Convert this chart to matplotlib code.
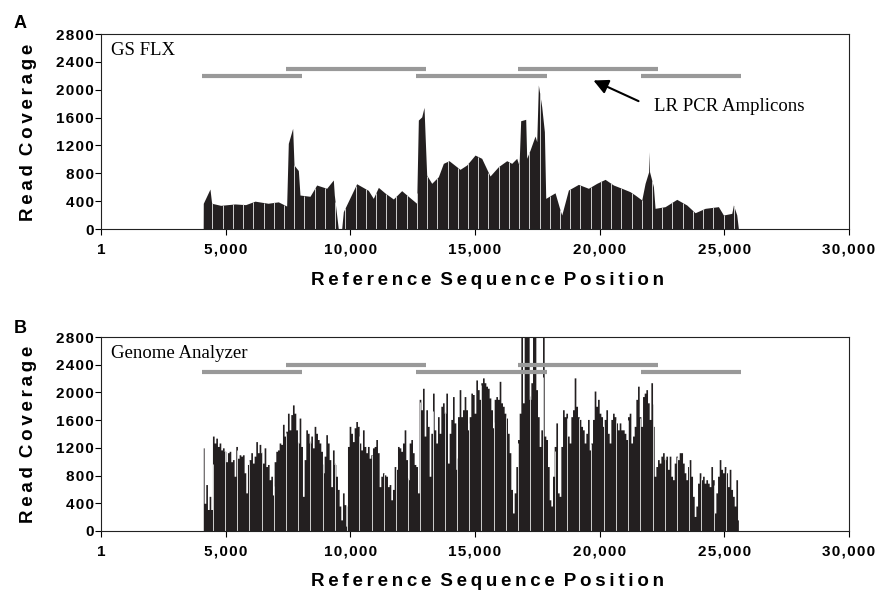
import numpy as np
import matplotlib
matplotlib.use("Agg")
import matplotlib.pyplot as plt

plt.rcParams['font.family'] = ['Liberation Sans', 'DejaVu Sans']

# amplicon extents (bp) and the height each bar is drawn at in the two panels
amp_start = [4050, 7420, 12640, 16730, 21660]
amp_end = [8060, 13040, 17890, 22340, 25670]
amp_level_A = [2200, 2300, 2200, 2300, 2200]
amp_level_B = [2300, 2400, 2300, 2400, 2300]

# GS FLX coverage profile (breakpoints)
posA = [4100, 4104, 4372, 4439, 4800, 5375, 5800, 6177, 6700, 7113, 7447, 7514, 7688,
        7742, 7916, 7982, 8383, 8651, 9052, 9319, 9359, 9519, 9653, 9720, 10255, 10722,
        10922, 11125, 11392, 11726, 12060, 12328, 12662, 12729, 12863, 12956, 12996,
        13063, 13264, 13531, 13731, 13959, 14400, 14667, 15002, 15269, 15603, 15937,
        16272, 16472, 16673, 16767, 16833, 17034, 17074, 17208, 17409, 17476, 17542,
        17676, 17783, 17837, 18211, 18412, 18479, 18746, 19147, 19548, 19883, 20217,
        20551, 20886, 21220, 21420, 21688, 21821, 21965, 21982, 22000, 22155, 22222,
        22623, 23092, 23493, 23827, 24228, 24762, 24963, 25298, 25364, 25498, 25564]
covA = [0, 369, 574, 370, 340, 360, 350, 400, 370, 390, 330, 1230, 1446,
        919, 840, 488, 470, 632, 585, 704, 488, 0, 0, 249, 650, 555,
        440, 598, 517, 431, 551, 469, 369, 1565, 1610, 1747, 1374,
        775, 656, 751, 943, 981, 857, 919, 1062, 1015, 761, 895,
        981, 943, 1015, 910, 1555, 1575, 1015, 1134, 1335, 1254, 2068,
        1756, 1398, 440, 520, 273, 201, 560, 641, 585, 656, 713,
        632, 585, 536, 488, 417, 656, 823, 1110, 823, 608, 297,
        321, 426, 345, 234, 297, 321, 201, 225, 345, 201, 0]

# Genome Analyzer coverage, one value per bin
binB_start = 4104
binB_width = 66.85
covB = [1200, 400, 670, 310, 500, 310, 1370, 1270, 1340, 1220,
        1270, 1170, 1200, 1150, 1000, 1130, 1150, 1000, 1030, 790,
        1220, 1050, 1100, 1080, 1100, 840, 550, 960, 1030, 1130,
        980, 1080, 1290, 1130, 1250, 1130, 980, 1200, 930, 960,
        740, 790, 520, 1000, 1150, 1170, 1270, 1250, 1540, 1370,
        1440, 1700, 1460, 1680, 1820, 1700, 1460, 1270, 1630, 1220,
        500, 1030, 1460, 1410, 1270, 1370, 1200, 1510, 1410, 1320,
        1270, 1150, 840, 1080, 1390, 1270, 1030, 640, 1170, 960,
        790, 600, 360, 160, 550, 380, 70, 1220, 1510, 1410,
        1290, 1490, 1580, 1510, 1270, 1170, 1460, 1220, 1130, 1220,
        1050, 1100, 1200,
        1220, 1320, 1130, 640, 790, 840, 810, 790, 640, 670,
        450, 600, 930, 890, 1220, 1200, 1150, 1270, 1460, 1030,
        740, 1270, 1320, 1130, 960, 930, 550, 1900, 1750, 2060,
        1370, 1750, 1510, 790, 1410, 1990, 1460, 1270, 1650, 1410,
        1800, 1850, 1700, 1990, 980, 1410, 1610, 1940, 1560, 890,
        1650, 2040, 1650, 1750, 1940, 1750, 1460, 1650, 1990, 1970,
        1700, 2180, 2040, 1900, 2140, 2210, 2140, 2090, 2060, 1920,
        1750, 1490, 1900, 1940, 1900, 2160, 1850, 1800, 1700, 1630,
        1410, 1130, 600, 260, 550, 930, 1320, 1700, 2900, 1850,
        2900, 2900, 2900, 1900, 2140, 2900, 2900, 2040, 1650, 1220,
        1460, 2900, 1370, 1320, 930, 450, 360, 790,
        1220, 1560, 550, 500, 1220, 1750, 1650, 1700, 1370, 1270,
        1650, 1750, 2210, 1800, 1650, 1610, 1510, 1460, 1270, 1410,
        1610, 1170, 1270, 1610, 2020, 1800, 1900, 1700, 1650, 1510,
        1610, 1750, 1410, 1270, 1610, 1700, 1650, 1560, 1460, 1560,
        1460, 1460, 1410, 1320, 1650, 1700, 1270, 1370, 1510, 1900,
        2090, 1650, 1510, 1940, 1990, 2040, 1850, 1610, 2140, 1510,
        790, 930, 1030, 980, 1080, 1130, 1030, 1080, 890, 1080,
        790, 740, 980, 1080, 1030, 1130, 1130, 980, 840, 740,
        930, 1030, 790, 500, 210, 360, 690, 840, 740, 790,
        690, 740, 690, 640, 930, 740, 260, 550, 790, 1030,
        890, 840, 930, 840, 640, 890, 600, 500, 360, 740, 160]

xticks = [1, 5000, 10000, 15000, 20000, 25000, 30000]
xtick_labels = ['1', '5,000', '10,000', '15,000', '20,000', '25,000', '30,000']
yticks = [0, 400, 800, 1200, 1600, 2000, 2400, 2800]

fill_col = '#231f20'
amp_col = '#999999'
thin = '\u2009'
hair = '\u200a'


def spread(s, gap):
    return gap.join(list(s))


def style_axes(ax):
    ax.set_xlim(1, 30000)
    ax.set_ylim(0, 2800)
    ax.set_xticks(xticks)
    ax.set_xticklabels([spread(t, hair) for t in xtick_labels], fontsize=11, fontweight='bold')
    ax.set_yticks(yticks)
    ax.set_yticklabels([spread(str(t), hair) for t in yticks], fontsize=11, fontweight='bold')
    ax.tick_params(axis='x', direction='out', length=4, width=0.8, pad=6)
    ax.tick_params(axis='y', direction='out', length=4, width=0.8, pad=1)
    for sp in ax.spines.values():
        sp.set_linewidth(0.8)
        sp.set_color('#222222')


fig = plt.figure(figsize=(8.78, 5.93), dpi=100)
axA = fig.add_axes([0.115, 0.6138, 0.852, 0.3288])
axB = fig.add_axes([0.115, 0.1046, 0.852, 0.3271])

# Panel A
axA.fill_between(posA, covA, color=fill_col, lw=0)
gapsA = np.arange(4470, 25500, 410)
axA.vlines(gapsA, 0, np.interp(gapsA, posA, covA), color='#cfcfcf', lw=0.7)
axA.hlines(amp_level_A, amp_start, amp_end, color=amp_col, lw=3)
axA.text(400, 2500, 'GS FLX', family='Liberation Serif', fontsize=13.5, va='baseline')
axA.annotate('', xy=(19650, 2150), xytext=(21660, 1820),
             arrowprops=dict(arrowstyle='-|>', color='black', lw=1.5, mutation_scale=22))
axA.text(22180, 1700, 'LR PCR Amplicons', family='Liberation Serif', fontsize=13.5, va='baseline')
style_axes(axA)

# Panel B
xB = binB_start + binB_width * np.arange(len(covB))
axB.fill_between(xB, covB, step='mid', color=fill_col, lw=0)
gapsB = np.arange(4480, 25500, 490)
axB.vlines(gapsB, 0, np.interp(gapsB, xB, covB), color='#cfcfcf', lw=0.7)
axB.hlines(amp_level_B, amp_start, amp_end, color=amp_col, lw=3)
axB.text(400, 2500, 'Genome Analyzer', family='Liberation Serif', fontsize=13.5, va='baseline')
style_axes(axB)

# labels
ylab = spread('Read', thin) + ' ' + thin + spread('Coverage', thin)
xlab = (spread('Reference', thin) + ' ' + thin + spread('Sequence', thin) + ' ' + thin
        + spread('Position', thin))
fig.text(0.033, 0.777, ylab, rotation=90, ha='center', va='center', fontsize=13.5, fontweight='bold')
fig.text(0.033, 0.268, ylab, rotation=90, ha='center', va='center', fontsize=13.5, fontweight='bold')
fig.text(0.5547, 0.527, xlab, ha='center', va='center', fontsize=13.5, fontweight='bold')
fig.text(0.5547, 0.020, xlab, ha='center', va='center', fontsize=13.5, fontweight='bold')
fig.text(0.023, 0.960, 'A', ha='center', va='center', fontsize=13, fontweight='bold')
fig.text(0.023, 0.446, 'B', ha='center', va='center', fontsize=13, fontweight='bold')

fig.savefig('out.png', dpi=100)
